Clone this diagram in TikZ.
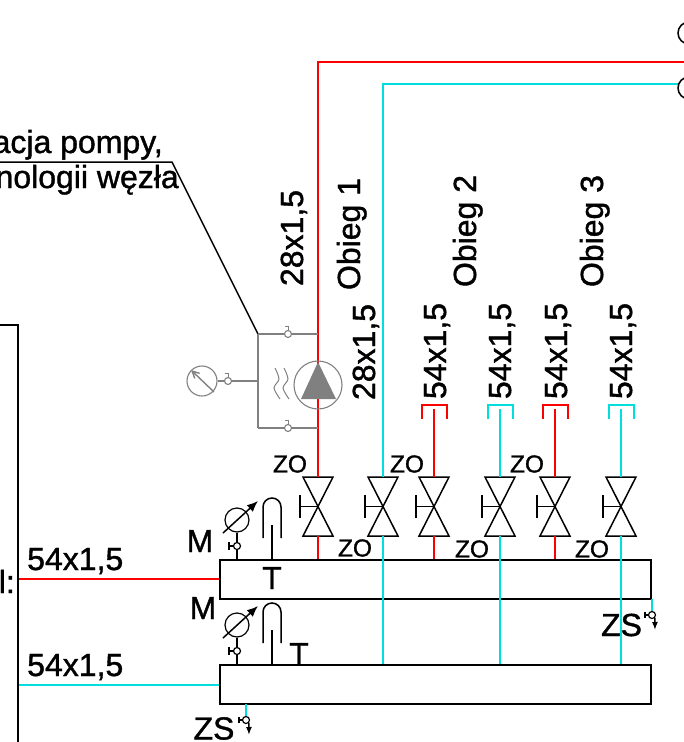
\documentclass[tikz,border=0pt]{standalone}
\usepackage{fontspec}
\setmainfont{Liberation Sans}[FakeBold=1.2]
\usetikzlibrary{arrows.meta}
\definecolor{pipecyan}{RGB}{0,222,222}
\definecolor{armgray}{RGB}{128,128,128}
\tikzset{
	hot/.style={red,line width=2pt},
	cold/.style={pipecyan,line width=2pt},
	fit line/.style={black,line width=1.5pt},
	arm/.style={armgray,line width=1.4pt},
	manifold/.style={draw=black,line width=1.9pt,minimum width=431pt,minimum height=39pt,inner sep=0pt},
	tap/.style={circle,minimum size=7pt,inner sep=0pt},
	big/.style={inner sep=0pt,font=\fontsize{32}{32}\selectfont},
	small/.style={inner sep=0pt,font=\fontsize{24.5}{24.5}\selectfont},
}
\begin{document}
\begin{tikzpicture}[x=1pt,y=-1pt]
	\useasboundingbox (0,0) rectangle (684,742);

	% Manifolds
	\node[manifold] (supply) at (435.5,579.5) {};
	\node[manifold] (return) at (435.5,684.5) {};

	% Valves
	\foreach \x/\n in {318/a,383/b,434/c,500/d,555/e,621/f} {
		\coordinate (top\n) at (\x,477);
		\coordinate (bot\n) at (\x,536);
		\coordinate (mid\n) at (\x,506.5);
		\coordinate (hnd\n) at (\x-18,506.5);
		\draw[fit line,line join=miter] (\x-15,477) -- (\x+15,477) -- (\x-15,536) -- (\x+15,536) -- cycle;
		\draw[fit line] (mid\n) -- (hnd\n);
		\draw[fit line] (\x-18,495) -- (\x-18,518);
	}

	% Caps
	\foreach \x/\n/\c in {434/c/hot,500/d/cold,555/e/hot,621/f/cold} {
		\coordinate (cap\n) at (\x,409);
		\draw[\c,line join=miter] (\x-12.5,419) -- (\x-12.5,404.5) -- (\x+12.5,404.5) -- (\x+12.5,419);
		\draw[\c] (cap\n) -- (top\n);
	}

	% Pipes
	\coordinate (feedhot) at (684,62);
	\coordinate (bendhot) at (318,62);
	\coordinate (feedcold) at (678,84);
	\coordinate (bendcold) at (383,84);
	\coordinate (wallhot) at (18,579);
	\coordinate (wallcold) at (18,685);
	\draw[hot] (feedhot) -- (bendhot) -- (topa);
	\draw[cold] (feedcold) -- (bendcold) -- (topb);
	\draw[hot] (wallhot) -- (supply.west |- wallhot);
	\draw[cold] (wallcold) -- (return.west |- wallcold);
	\draw[hot] (bota) -- (bota |- supply.north);
	\draw[hot] (botc) -- (botc |- supply.north);
	\draw[hot] (bote) -- (bote |- supply.north);
	\draw[cold] (botb) -- (botb |- return.north);
	\draw[cold] (botd) -- (botd |- return.north);
	\draw[cold] (botf) -- (botf |- return.north);

	% Wall and leader
	\coordinate (wallcorner) at (18,325);
	\draw[fit line] (0,325) -- (wallcorner) -- (18,742);
	\coordinate (leaderknee) at (172,162);
	\coordinate (boxtop) at (258,334);
	\coordinate (boxmid) at (258,381);
	\coordinate (boxbot) at (258,428);
	\draw[fit line] (0,162) -- (leaderknee) -- (boxtop);

	% Pump
	\node[circle,draw=armgray,line width=1.1pt,minimum size=48pt,inner sep=0pt] (pump) at (318,385) {};
	\fill[armgray] (318,362) -- (336,399) -- (301,399) -- cycle;
	\draw[arm] (boxtop) -- (boxbot);
	\draw[arm] (boxtop) -- (boxtop -| pump);
	\draw[arm] (boxbot) -- (boxbot -| pump);
	\node[tap,draw=armgray,fill=white,line width=1.1pt] (tapup) at (288,334) {};
	\node[tap,draw=armgray,fill=white,line width=1.1pt] (tapdown) at (288,428) {};
	\node[tap,draw=armgray,fill=white,line width=1.1pt] (tapgauge) at (228,381) {};
	\node[circle,draw=armgray,line width=1.1pt,minimum size=30pt,inner sep=0pt] (gauge) at (202,381) {};
	\draw[arm] (boxmid) -- (tapgauge) -- (gauge);
	\draw[arm,-{Straight Barb[length=7pt,width=7pt]}] (214,392) -- (191,370);
	\draw[armgray,line width=0.8pt] (tapup.north) -- ++(0,-4) -- ++(-3,0);
	\draw[armgray,line width=0.8pt] (tapdown.north) -- ++(0,-4) -- ++(-3,0);
	\draw[armgray,line width=0.8pt] (tapgauge.north) -- ++(0,-4) -- ++(-3,0);
	\draw[armgray,line width=1pt] plot[smooth] coordinates {(275,368) (279,379) (274,388) (280,399)};
	\draw[armgray,line width=1pt] plot[smooth] coordinates {(284,368) (288,379) (283,388) (289,399)};

	% Gauges and thermometers on the manifolds
	\foreach \d/\n/\o in {0/u/supply,105/l/return} {
		\node[circle,draw,line width=1.2pt,minimum size=24pt,inner sep=0pt] (gauge\n) at (237,520+\d) {};
		\draw[fit line] (gauge\n) -- (237,560+\d);
		\node[tap,draw,fill=white,line width=1.2pt,minimum size=7pt] (tap\n) at (237,546+\d) {};
		\draw[fit line] (tap\n.west) -- ++(-4,0);
		\draw[fit line] (229,542+\d) -- (229,550+\d);
		\draw[fit line,-{Latex[length=11pt,width=9pt]}] (223,533+\d) -- (258,501+\d);
		\draw[fit line] (263,538+\d) -- (263,507+\d) arc[start angle=180,end angle=0,radius=9pt] -- (281,538+\d);
		\coordinate (well\n) at (272,525+\d);
		\draw[fit line] (well\n) -- (well\n |- \o.north);
	}

	% Drains
	\coordinate (drainr) at (652,599);
	\coordinate (drainl) at (246,704);
	\foreach \n/\x/\y in {r/652/599,l/246/704} {
		\draw[cold] (drain\n) -- (\x,\y+14);
		\node[tap,draw,fill=white,line width=1.2pt,minimum size=7pt] (tapdrain\n) at (\x,\y+16) {};
		\draw[fit line] (tapdrain\n.west) -- ++(-3,0);
		\draw[fit line] (\x-7,\y+13) -- (\x-7,\y+19);
		\draw[fit line,-{Latex[length=8pt,width=6pt]}] (tapdrain\n.south east) -- (\x+3,\y+31);
	}

	% Circles at the right edge
	\node[circle,draw,line width=1.5pt,minimum size=22pt,inner sep=0pt] (endup) at (689,33) {};
	\node[circle,draw,line width=1.5pt,minimum size=22pt,inner sep=0pt] (enddown) at (689,88) {};

	% Label
	\node[big,anchor=base east] (notea) at (163,153) {acja pompy,};
	\node[big,anchor=base east] (noteb) at (179,188) {nologii węzła};
	\node[big,anchor=base east] (wallnote) at (15,593) {l:};
	\node[big,anchor=base west] (sizehot) at (27,570) {54x1,5};
	\node[big,anchor=base west] (sizecold) at (27,676) {54x1,5};
	\node[big,anchor=base,rotate=90] (sizea) at (303,238) {28x1,5};
	\node[big,anchor=base,rotate=90] (sizeb) at (375,352) {28x1,5};
	\node[big,anchor=base,rotate=90] (sizec) at (446,351) {54x1,5};
	\node[big,anchor=base,rotate=90] (sized) at (511,351) {54x1,5};
	\node[big,anchor=base,rotate=90] (sizee) at (567,351) {54x1,5};
	\node[big,anchor=base,rotate=90] (sizef) at (632,351) {54x1,5};
	\node[big,anchor=base,rotate=90] (obiega) at (360,234) {Obieg 1};
	\node[big,anchor=base,rotate=90] (obiegb) at (476,231) {Obieg 2};
	\node[big,anchor=base,rotate=90] (obiegc) at (603,231) {Obieg 3};
	\node[big] (ma) at (200,541) {M};
	\node[big] (mb) at (203,608) {M};
	\node[big] (ta) at (272,578) {T};
	\node[big] (tb) at (299,654) {T};
	\node[big] (zsa) at (621.5,625) {ZS};
	\node[big] (zsb) at (214,728.5) {ZS};
	\node[small] (zoa) at (290,464) {ZO};
	\node[small] (zob) at (407,464) {ZO};
	\node[small] (zoc) at (527,464) {ZO};
	\node[small] (zod) at (355,548) {ZO};
	\node[small] (zoe) at (472,549) {ZO};
	\node[small] (zof) at (592,549) {ZO};

\end{tikzpicture}
\end{document}
